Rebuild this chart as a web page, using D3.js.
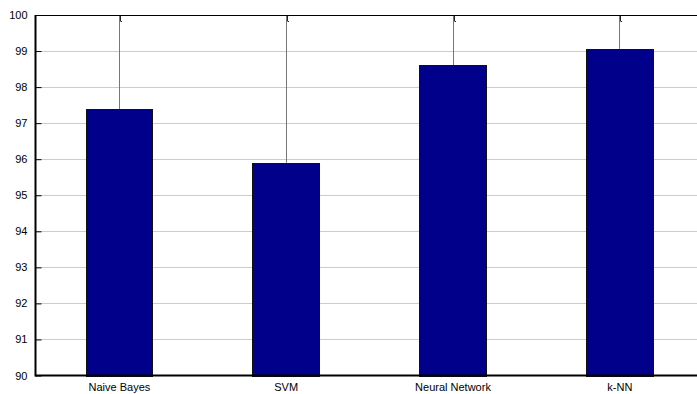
<!DOCTYPE html>
<html><head><meta charset="utf-8">
<script src="https://cdn.jsdelivr.net/npm/d3@7"></script>
<style>
body{margin:0;background:#fff;}
svg{display:block;font-family:Arial,"Liberation Sans",sans-serif;}
</style></head>
<body><svg id="c" width="697" height="394"></svg>
<script>
const categories = ["Naive Bayes","SVM","Neural Network","k-NN"];
const accuracy = [97.38, 95.90, 98.60, 99.06];
const errorUpper = [3.0, 4.5, 1.8, 1.3];
const yTicks = [90,91,92,93,94,95,96,97,98,99,100];

const svg = d3.select("#c");
const m = {l:35.5, t:15, b:375.5};
const x = d3.scaleLinear().domain([0.5,4.5]).range([m.l, 702.7]);
const y = d3.scaleLinear().domain([90,100]).range([m.b, m.t]);
const bw = 0.4;

svg.append("defs").append("clipPath").attr("id","clip")
  .append("rect").attr("x",m.l).attr("y",m.t).attr("width",700).attr("height",m.b-m.t);

// grid
svg.append("g").selectAll("line").data(yTicks.slice(1,-1)).join("line")
  .attr("x1",m.l).attr("x2",697).attr("y1",d=>Math.round(y(d))+0.5).attr("y2",d=>Math.round(y(d))+0.5)
  .attr("stroke","#999").attr("stroke-width",1).attr("stroke-dasharray","1,1");

// error lines
const g = svg.append("g").attr("clip-path","url(#clip)");
g.selectAll("line.err").data(accuracy).join("line").attr("class","err")
  .attr("x1",(d,i)=>Math.round(x(i+1))+0.5).attr("x2",(d,i)=>Math.round(x(i+1))+0.5)
  .attr("y1",d=>y(d)).attr("y2",(d,i)=>y(d+errorUpper[i]))
  .attr("stroke","#777").attr("stroke-width",1);
// small cap marks at top
g.selectAll("path.cap").data(accuracy).join("path").attr("class","cap")
  .attr("d",(d,i)=>{const cx=Math.round(x(i+1))+1.5;return `M${cx},${m.t} V${m.t+6} M${cx},${m.t+6.5} H${cx+1.5}`;})
  .attr("stroke","#222").attr("stroke-width",1).attr("fill","none");

// bars
svg.append("g").selectAll("rect").data(accuracy).join("rect")
  .attr("x",(d,i)=>Math.round(x(i+1-bw/2))+0.5)
  .attr("width",(d,i)=>Math.round(x(i+1+bw/2))-Math.round(x(i+1-bw/2)))
  .attr("y",d=>Math.round(y(d))+0.5)
  .attr("height",d=>Math.round(y(90))-Math.round(y(d)))
  .attr("fill","#00008b").attr("stroke","#111").attr("stroke-width",1);

// axes
const yAxis = d3.axisLeft(y).tickValues(yTicks).tickSize(-6).tickPadding(10).tickFormat(d3.format("d"));
const ya = svg.append("g").attr("transform",`translate(${m.l},0)`).call(yAxis);
ya.select(".domain").remove();
ya.selectAll("line").attr("stroke","#000");
ya.selectAll("text").attr("font-size",11).attr("fill","#000").attr("dx",2);

svg.append("line").attr("x1",m.l).attr("x2",m.l).attr("y1",m.t).attr("y2",m.b+1).attr("stroke","#000").attr("stroke-width",2);
svg.append("line").attr("x1",m.l).attr("x2",697).attr("y1",m.b).attr("y2",m.b).attr("stroke","#000").attr("stroke-width",2);
svg.append("line").attr("x1",m.l).attr("x2",697).attr("y1",m.t+0.5).attr("y2",m.t+0.5).attr("stroke","#000").attr("stroke-width",1);

const xAxis = d3.axisBottom(x).tickValues([1,2,3,4]).tickSize(0).tickPadding(8).tickFormat(d=>categories[d-1]);
const xa = svg.append("g").attr("transform",`translate(0,${m.b})`).call(xAxis);
xa.select(".domain").remove();
xa.selectAll("text").attr("font-size",11).attr("fill","#000");
</script></body></html>
